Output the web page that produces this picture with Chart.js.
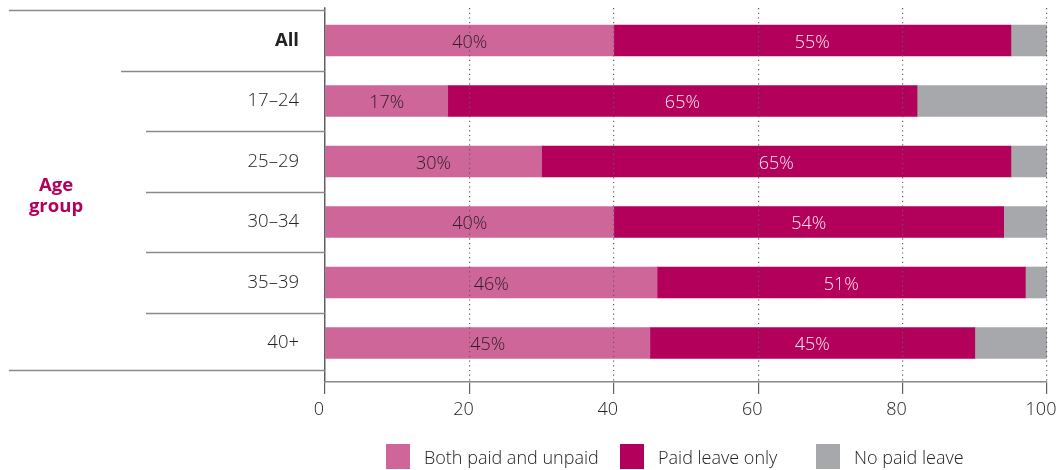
<!DOCTYPE html>
<html>
<head>
<meta charset="utf-8">
<script src="https://cdn.jsdelivr.net/npm/chart.js@4"></script>
<style>
  html, body { margin: 0; padding: 0; background: #fff; }
  #wrap { position: relative; width: 1063px; height: 470px; }
  #legend {
    position: absolute; left: 386px; top: 444px;
    display: flex;
    font-family: "Open Sans", sans-serif; font-weight: 300; font-size: 18px; color: #222;
  }
  #legend .item { display: flex; align-items: center; }
  #legend .item:nth-child(1) { width: 234px; }
  #legend .item:nth-child(2) { width: 196px; }
  #legend .box { width: 24px; height: 25px; margin-right: 14px; }
</style>
</head>
<body>
<div id="wrap">
  <canvas id="leave"></canvas>
  <div id="legend"></div>
</div>
<script>
const ageGroups = ["All", "17–24", "25–29", "30–34", "35–39", "40+"];
const bothPaidUnpaid = [40, 17, 30, 40, 46, 45];
const paidOnly = [55, 65, 65, 54, 51, 45];
const noPaid = [5, 18, 5, 6, 3, 10];
const xTicks = [0, 20, 40, 60, 80, 100];

const PINK = "#cf6699";
const MAGENTA = "#b3005a";
const GREY = "#a7a8ab";
const LINE = "#8a8a8a";

Chart.defaults.font.family = "'Open Sans', sans-serif";
Chart.defaults.font.size = 18;
Chart.defaults.color = "#222";

// percentage text in the middle of each coloured segment
const segmentLabels = {
  id: "segmentLabels",
  afterDatasetsDraw(chart) {
    const ctx = chart.ctx;
    ctx.save();
    ctx.font = "300 18px 'Open Sans', sans-serif";
    ctx.textAlign = "center";
    ctx.textBaseline = "middle";
    chart.data.datasets.forEach((ds, di) => {
      if (!ds.labelColor) return;
      ctx.fillStyle = ds.labelColor;
      chart.getDatasetMeta(di).data.forEach((bar, i) => {
        const { x, y, base } = bar.getProps(["x", "y", "base"], true);
        ctx.fillText(ds.data[i].x + "%", (x + base) / 2, y + 2);
      });
    });
    ctx.restore();
  }
};

// row separators and the "Age group" heading on the left
const sideFrame = {
  id: "sideFrame",
  afterDraw(chart) {
    const ctx = chart.ctx;
    const yScale = chart.scales.y;
    const right = chart.chartArea.left;
    const rules = [[-0.5, 9], [0.5, 121], [1.5, 146], [2.5, 146], [3.5, 146], [4.5, 146], [5.44, 9]];
    ctx.save();
    ctx.strokeStyle = LINE;
    ctx.lineWidth = 1.5;
    rules.forEach(([v, x0]) => {
      const y = Math.round(yScale.getPixelForValue(v)) + 0.5;
      ctx.beginPath();
      ctx.moveTo(x0, y);
      ctx.lineTo(right, y);
      ctx.stroke();
    });
    ctx.fillStyle = MAGENTA;
    ctx.font = "bold 18.5px 'Open Sans', sans-serif";
    ctx.textAlign = "center";
    ctx.textBaseline = "middle";
    ctx.fillText("Age", 56, 186);
    ctx.fillText("group", 56, 207);
    ctx.restore();
  }
};

const series = [
  { label: "Both paid and unpaid", values: bothPaidUnpaid, color: PINK, text: "#2b1d26" },
  { label: "Paid leave only", values: paidOnly, color: MAGENTA, text: "#fbe6f0" },
  { label: "No paid leave", values: noPaid, color: GREY, text: null }
];

new Chart(document.getElementById("leave"), {
  type: "bar",
  data: {
    datasets: series.map((s) => ({
      label: s.label,
      data: s.values.map((v, i) => ({ x: v, y: i })),
      backgroundColor: s.color,
      labelColor: s.text,
      barThickness: 31,
      borderWidth: 0
    }))
  },
  options: {
    indexAxis: "y",
    responsive: true,
    maintainAspectRatio: false,
    animation: false,
    layout: { padding: { top: 8, right: 16, bottom: 50, left: 0 } },
    plugins: { legend: { display: false }, tooltip: { enabled: false } },
    scales: {
      x: {
        type: "linear",
        stacked: true,
        min: 0,
        max: 100,
        afterBuildTicks: (scale) => { scale.ticks = xTicks.map((v) => ({ value: v })); },
        afterFit: (scale) => {
          scale.height = 38;
          scale.paddingLeft = 0;
          scale.paddingRight = 0;
        },
        ticks: { padding: 5, labelOffset: -6, font: { size: 18, weight: 300 }, color: "#222" },
        grid: {
          z: 1,
          color: "#5f5f5f",
          lineWidth: 1.2,
          tickLength: 12,
          drawOnChartArea: true
        },
        border: {
          display: true,
          z: 1,
          color: LINE,
          width: 1.5,
          dash: (ctx) => (ctx.tick && ctx.tick.value > 0 ? [1.2, 3.5] : [])
        }
      },
      y: {
        type: "linear",
        stacked: true,
        reverse: true,
        offset: false,
        min: -0.537,
        max: 5.645,
        afterBuildTicks: (scale) => { scale.ticks = ageGroups.map((_, i) => ({ value: i })); },
        afterFit: (scale) => {
          scale.width = 325;
          scale.paddingTop = 0;
          scale.paddingBottom = 0;
        },
        grid: { display: false, drawTicks: false, offset: false },
        border: { display: true, color: LINE, width: 1.5 },
        ticks: {
          autoSkip: false,
          padding: 26,
          color: "#222",
          callback: (v) => ageGroups[v],
          font: (ctx) => ({ size: 18.5, weight: ctx.tick && ctx.tick.value === 0 ? "bold" : 300 })
        }
      }
    }
  },
  plugins: [segmentLabels, sideFrame]
});

// legend row under the axis
const legend = document.getElementById("legend");
series.forEach((s) => {
  const item = document.createElement("div");
  item.className = "item";
  const box = document.createElement("span");
  box.className = "box";
  box.style.background = s.color;
  const label = document.createElement("span");
  label.textContent = s.label;
  item.appendChild(box);
  item.appendChild(label);
  legend.appendChild(item);
});
</script>
</body>
</html>
